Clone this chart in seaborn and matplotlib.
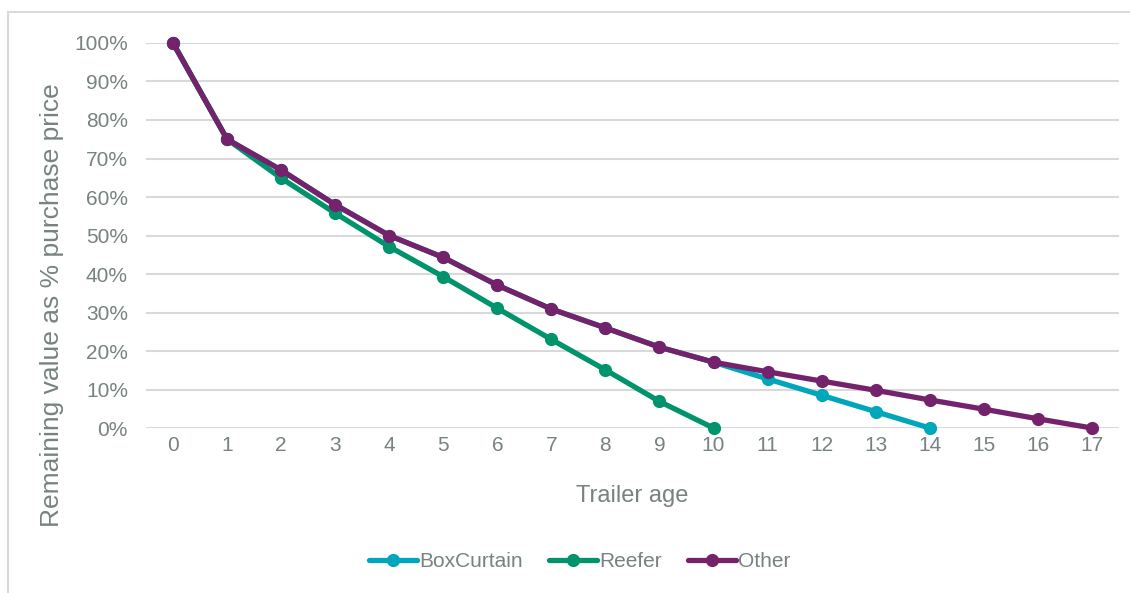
import pandas as pd
import matplotlib.pyplot as plt
import seaborn as sns
from matplotlib.patches import Rectangle
from matplotlib.ticker import PercentFormatter

# Remaining value (% of purchase price) by trailer age
ages_box = list(range(0, 15))
box_curtain = [100, 75, 67, 58, 50, 44.3, 37.1, 30.9, 26, 21, 17.1, 12.75, 8.5, 4.25, 0]

ages_reefer = list(range(0, 11))
reefer = [100, 75, 64.9, 55.8, 47.1, 39.3, 31.1, 23, 15.1, 6.9, 0]

ages_other = list(range(0, 18))
other = [100, 75, 67, 58, 50, 44.3, 37.1, 30.9, 26, 21, 17.1, 14.6, 12.2, 9.8, 7.3, 4.9, 2.4, 0]

series_names = ['BoxCurtain', 'Reefer', 'Other']
colors = ['#00A6BA', '#00936C', '#74226C']
x_ticks = list(range(0, 18))

df = pd.concat([
    pd.DataFrame({'age': ages_box, 'value': box_curtain, 'type': 'BoxCurtain'}),
    pd.DataFrame({'age': ages_reefer, 'value': reefer, 'type': 'Reefer'}),
    pd.DataFrame({'age': ages_other, 'value': other, 'type': 'Other'}),
])

sns.set_style('white')
plt.rcParams['font.family'] = ['Liberation Sans', 'DejaVu Sans']
text_col = '#778281'
grid_col = '#D9D9D9'

fig = plt.figure(figsize=(11.3, 5.93), dpi=100)
ax = fig.add_axes([0.1292, 0.2782, 0.861, 0.6493])

sns.lineplot(data=df, x='age', y='value', hue='type', hue_order=series_names,
             palette=dict(zip(series_names, colors)), marker='o', markersize=9.5,
             markeredgewidth=0, linewidth=3.8, ax=ax, clip_on=False)

ax.set_xlim(-0.5, 17.5)
ax.set_ylim(0, 100)
ax.set_xticks(x_ticks)
ax.set_yticks(range(0, 101, 10))
ax.yaxis.set_major_formatter(PercentFormatter(decimals=0))
ax.grid(axis='y', color=grid_col, linewidth=1.5)
ax.set_axisbelow(True)
for s in ax.spines.values():
    s.set_visible(False)
ax.tick_params(axis='both', length=0, labelsize=15, labelcolor=text_col)
ax.tick_params(axis='y', pad=13)
ax.tick_params(axis='x', pad=6)
ax.set_xlabel('Trailer age', fontsize=17, color=text_col, labelpad=21)
ax.set_ylabel('Remaining value as % purchase price', fontsize=19, color=text_col)
ax.yaxis.set_label_coords(-0.097, 0.32)
ax.yaxis.label.set_verticalalignment('center')

handles, labels = ax.get_legend_handles_labels()
ax.legend_.remove()
fig.legend(handles, labels, loc='center', bbox_to_anchor=(0.513, 0.053), ncol=3,
           frameon=False, fontsize=15, labelcolor=text_col, handlelength=2.3,
           handletextpad=0.1, columnspacing=1.25)

fig.patches.append(Rectangle((8 / 1130, -0.1), 1.2, 1 - 12 / 593 + 0.1,
                             transform=fig.transFigure, fill=False,
                             edgecolor=grid_col, linewidth=1.5))

fig.savefig('out.png', dpi=100)
